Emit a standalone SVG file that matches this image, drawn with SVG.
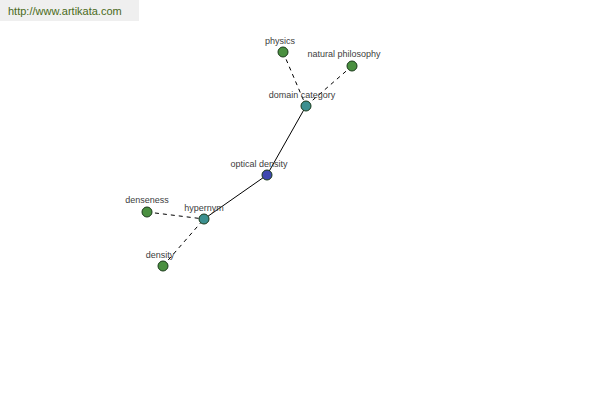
<svg xmlns="http://www.w3.org/2000/svg" width="600" height="400" viewBox="0 0 600 400">
<style>
.lbl{font-family:"Liberation Sans",Arial,sans-serif;font-size:9px;fill:#404040;text-anchor:middle}
.n{stroke:#1a3a1a;stroke-width:1}
.g{fill:#4a9040}
.t{fill:#3c9090}
.b{fill:#3f48b0}
.e{stroke:#000;stroke-width:1;fill:none}
.d{stroke-dasharray:4,4}
</style>
<rect width="600" height="400" fill="#fff"/>
<rect x="0" y="0" width="139" height="21" fill="#efefef"/>
<text x="8" y="15" font-family="'Liberation Sans',Arial,sans-serif" font-size="11" fill="#4a6a20">http://www.artikata.com</text>
<g id="connectors">
<line class="e d" x1="283" y1="52" x2="306" y2="106"/>
<line class="e d" x1="352" y1="66" x2="306" y2="106"/>
<line class="e" x1="306" y1="106" x2="267" y2="175"/>
<line class="e" x1="267" y1="175" x2="204" y2="219"/>
<line class="e d" x1="147" y1="212" x2="204" y2="219"/>
<line class="e d" x1="163" y1="266" x2="204" y2="219"/>
</g>
<g id="physics"><circle class="n g" cx="283" cy="52" r="5"/><text class="lbl" x="280" y="44">physics</text></g>
<g id="natural-philosophy"><circle class="n g" cx="352" cy="66" r="5"/><text class="lbl" x="344" y="57">natural philosophy</text></g>
<g id="domain-category"><circle class="n t" cx="306" cy="106" r="5"/><text class="lbl" x="302" y="98">domain category</text></g>
<g id="optical-density"><circle class="n b" cx="267" cy="175" r="5"/><text class="lbl" x="259" y="167">optical density</text></g>
<g id="hypernym"><circle class="n t" cx="204" cy="219" r="5"/><text class="lbl" x="204" y="211">hypernym</text></g>
<g id="denseness"><circle class="n g" cx="147" cy="212" r="5"/><text class="lbl" x="147" y="203">denseness</text></g>
<g id="density"><circle class="n g" cx="163" cy="266" r="5"/><text class="lbl" x="160" y="258">density</text></g>
</svg>
